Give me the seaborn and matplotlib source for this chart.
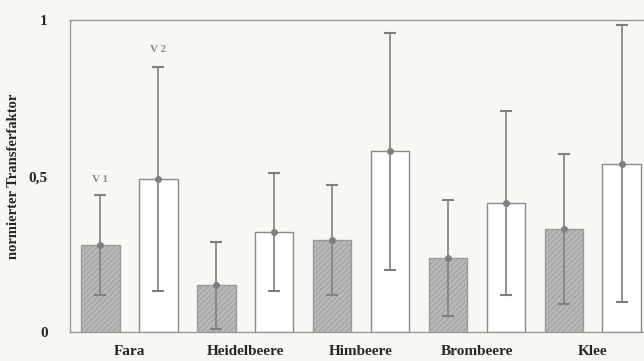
import matplotlib
matplotlib.use("Agg")
import matplotlib.pyplot as plt
import seaborn as sns
import pandas as pd

categories = ["Fara", "Heidelbeere", "Himbeere", "Brombeere", "Klee"]
series = ["V 1", "V 2"]
v1_values = [0.28, 0.15, 0.295, 0.237, 0.33]
v1_errors = [0.16, 0.14, 0.175, 0.186, 0.24]
v2_values = [0.49, 0.32, 0.58, 0.413, 0.54]
v2_errors = [0.36, 0.19, 0.38, 0.295, 0.445]
y_ticks = [0, 0.5, 1]
y_ticklabels = ["0", "0,5", "1"]

df = pd.DataFrame({
    "Kategorie": categories * 2,
    "Serie": [series[0]] * len(categories) + [series[1]] * len(categories),
    "Wert": v1_values + v2_values,
})

sns.set_style("white")
plt.rcParams["font.family"] = ["Liberation Serif", "DejaVu Serif"]
plt.rcParams["hatch.linewidth"] = 0.6

bg = "#f8f7f3"
fig = plt.figure(figsize=(6.44, 3.61), dpi=100, facecolor=bg)
ax = fig.add_axes([0.1087, 0.0803, 0.902, 0.864])
ax.set_facecolor(bg)

sns.barplot(data=df, x="Kategorie", y="Wert", hue="Serie", order=categories,
            hue_order=series, palette=["#b8b8b8", "#ffffff"], width=1.0, gap=0.33,
            errorbar=None, ax=ax, legend=False, edgecolor="#8a8a8a", linewidth=1.0)

for bar in ax.containers[0]:
    bar.set_hatch("//////")
    bar.set_edgecolor("#9a9a9a")
for bar in ax.containers[1]:
    bar.set_edgecolor("#8a8a8a")

for cont, vals, errs in [(ax.containers[0], v1_values, v1_errors),
                         (ax.containers[1], v2_values, v2_errors)]:
    xs = [b.get_x() + b.get_width() / 2 for b in cont]
    ax.errorbar(xs, vals, yerr=errs, fmt="o", color="#808080", ms=4,
                elinewidth=1.2, capsize=4, capthick=1.5, zorder=5)

# series labels above the first group
b1 = ax.containers[0][0]
b2 = ax.containers[1][0]
ax.text(b1.get_x() + b1.get_width() / 2, v1_values[0] + v1_errors[0] + 0.035, series[0],
        ha="center", va="bottom", fontsize=8, fontweight="bold", color="#8a8a8a")
ax.text(b2.get_x() + b2.get_width() / 2, v2_values[0] + v2_errors[0] + 0.04, series[1],
        ha="center", va="bottom", fontsize=8, fontweight="bold", color="#8a8a8a")

ax.set_xlim(-0.51, 4.5)
ax.set_ylim(0, 1)
ax.set_yticks(y_ticks)
ax.set_yticklabels(y_ticklabels, fontsize=11, fontweight="bold")
ax.tick_params(axis="y", length=0, pad=16)
ax.tick_params(axis="x", length=0, pad=9)
for lab in ax.get_xticklabels():
    lab.set_fontweight("bold")
    lab.set_fontsize(11)
ax.set_xlabel("")
ax.set_ylabel("normierter Transferfaktor", fontsize=10.5, fontweight="bold")
ax.yaxis.set_label_coords(-0.086, 0.5)

for side in ["top", "left", "bottom", "right"]:
    ax.spines[side].set_color("#9a9a9a")
    ax.spines[side].set_linewidth(1.0)
    ax.spines[side].set_linestyle((0, (6, 1)))
ax.grid(False)

fig.savefig("out.png", dpi=100, facecolor=bg)
